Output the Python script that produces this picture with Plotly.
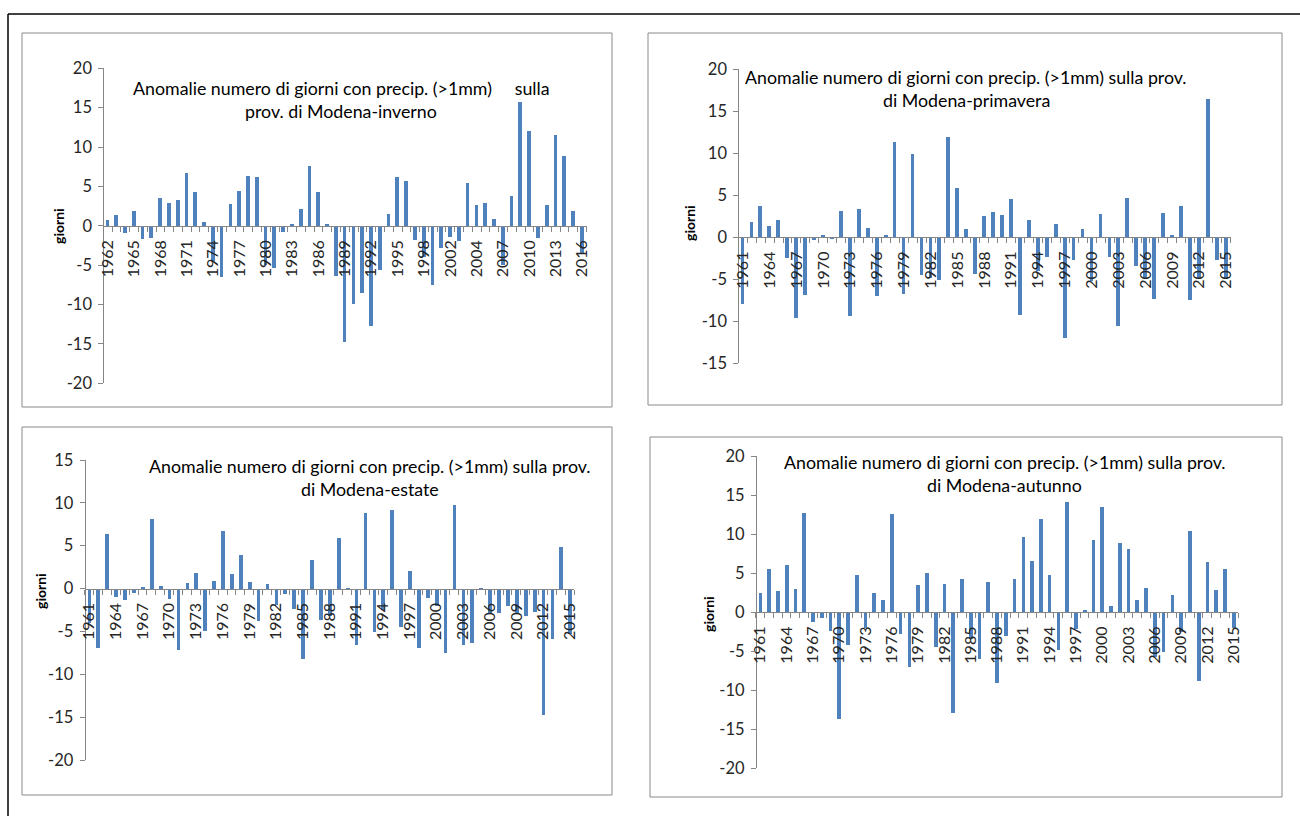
import plotly.graph_objects as go

# ---- data -----------------------------------------------------------------
years_inverno = list(range(1962, 2017))
inverno = [0.7, 1.3, -0.9, 1.8, -1.7, -1.6, 3.5, 2.8, 3.3, 6.7,      # 1962-1971
           4.3, 0.4, -4.5, -6.6, 2.7, 4.4, 6.3, 6.1, -5.0, -5.4,     # 1972-1981
           -0.8, 0.2, 2.1, 7.5, 4.3, 0.2, -6.4, -14.8, -10.0, -8.6,  # 1982-1991
           -12.8, -5.6, 1.4, 6.2, 5.6, -1.9, -4.0, -7.5, -2.9, -1.5, # 1992-2001
           -2.0, 5.4, 2.6, 2.8, 0.85, -5.0, 3.8, 15.7, 12.0, -1.6,   # 2002-2011
           2.6, 11.5, 8.8, 1.9, -3.6]                                # 2012-2016
ticks_inverno = ["1962", "1965", "1968", "1971", "1974", "1977", "1980", "1983",
                 "1986", "1989", "1992", "1995", "1998", "2002", "2004", "2007",
                 "2010", "2013", "2016"]

years_primavera = list(range(1961, 2016))
primavera = [-7.9, 1.75, 3.65, 1.35, 2.1, -2.5, -9.6, -6.9, -0.3, 0.25,    # 1961-1970
             -0.15, 3.1, -9.4, 3.4, 1.15, -7.0, 0.3, 11.35, -6.7, 9.95,    # 1971-1980
             -4.55, -4.8, -5.15, 11.9, 5.8, 1.0, -4.4, 2.55, 3.0, 2.65,    # 1981-1990
             4.5, -9.25, 2.0, -4.0, -2.3, 1.6, -12.0, -2.7, 1.0, -5.25,    # 1991-2000
             2.75, -2.3, -10.6, 4.7, -3.45, -4.8, -7.3, 2.85, 0.25, 3.75,  # 2001-2010
             -7.5, -4.8, 16.4, -2.7, -4.8]                                 # 2011-2015

years_estate = list(range(1961, 2016))
estate = [-4.0, -6.9, 6.35, -0.95, -1.3, -0.5, 0.2, 8.1, 0.25, -1.2,      # 1961-1970
          -7.2, 0.65, 1.85, -4.95, 0.9, 6.75, 1.65, 3.9, 0.75, -3.8,      # 1971-1980
          0.5, -1.9, -0.6, -2.4, -8.2, 3.3, -3.7, -3.2, 5.85, -0.2,       # 1981-1990
          -6.6, 8.85, -5.05, -2.5, 9.2, -4.5, 2.1, -6.9, -1.05, -2.0,     # 1991-2000
          -7.5, 9.75, -6.6, -6.4, -0.2, -2.9, -2.9, -2.0, -3.0, -3.2,     # 2001-2010
          -2.7, -14.8, -5.9, 4.9, -5.3]                                   # 2011-2015

years_autunno = list(range(1961, 2016))
autunno = [2.45, 5.55, 2.65, 6.1, 2.95, 12.75, -1.2, -0.7, -2.4, -13.7,   # 1961-1970
           -4.2, 4.8, -2.0, 2.45, 1.55, 12.55, -2.8, -7.05, 3.5, 5.0,     # 1971-1980
           -4.4, 3.65, -12.9, 4.2, -3.4, -6.0, 3.8, -9.1, -3.1, 4.2,      # 1981-1990
           9.6, 6.5, 11.95, 4.7, -4.8, 14.1, -2.2, 0.25, 9.25, 13.45,     # 1991-2000
           0.85, 8.85, 8.1, 1.55, 3.1, -5.8, -5.1, 2.15, -2.5, 10.4,      # 2001-2010
           -8.85, 6.4, 2.8, 5.5, -2.05]                                   # 2011-2015

ticks_std = ["1961", "1964", "1967", "1970", "1973", "1976", "1979", "1982",
             "1985", "1988", "1991", "1994", "1997", "2000", "2003", "2006",
             "2009", "2012", "2015"]

titles = [
    ["Anomalie numero di giorni con precip. (>1mm)\u00a0\u00a0\u00a0\u00a0 sulla", "prov. di Modena-inverno"],
    ["Anomalie numero di giorni con precip. (>1mm) sulla prov.", "di Modena-primavera"],
    ["Anomalie numero di giorni con precip. (>1mm) sulla prov.", "di Modena-estate"],
    ["Anomalie numero di giorni con precip. (>1mm) sulla prov.", "di Modena-autunno"],
]

# ---- layout geometry (pixels) ---------------------------------------------
W, H = 1300, 816


def fx(x):
    return x / W


def fy(y):
    return 1 - y / H


panels = [
    dict(years=years_inverno, vals=inverno, ticks=ticks_inverno, yr=(-20, 20),
         plot=(103.3, 68.3, 586.5, 383.3), box=(22, 33, 612, 407),
         t1=(341, 88), t2=(341, 111), ylab=(58, 226)),
    dict(years=years_primavera, vals=primavera, ticks=ticks_std, yr=(-15, 20),
         plot=(738.3, 69.0, 1230.5, 363.3), box=(648, 33, 1282, 405),
         t1=(966, 77), t2=(966, 100), ylab=(690, 223)),
    dict(years=years_estate, vals=estate, ticks=ticks_std, yr=(-20, 15),
         plot=(84.6, 460.0, 574.3, 760.0), box=(22, 427, 612, 795),
         t1=(369.5, 466), t2=(369.5, 489), ylab=(40, 591)),
    dict(years=years_autunno, vals=autunno, ticks=ticks_std, yr=(-20, 20),
         plot=(755.9, 456.0, 1238.0, 768.3), box=(650, 437, 1282, 797),
         t1=(1004.5, 462), t2=(1004.5, 485), ylab=(708, 614)),
]

BAR = "#4F81BD"
AXIS = "#868686"
TXT = "#262626"
FONT = "Lato"

fig = go.Figure()
shapes = []
annotations = []

for i, p in enumerate(panels, start=1):
    sx = "" if i == 1 else str(i)
    x0, ytop, x1, ybot = p["plot"]
    lo, hi = p["yr"]
    years = p["years"]

    fig.add_trace(go.Bar(
        x=years, y=p["vals"], width=0.42, marker=dict(color=BAR, line=dict(width=0)),
        xaxis="x" + sx, yaxis="y" + sx, showlegend=False,
    ))

    dy0, dy1 = fy(ybot), fy(ytop)
    zero_pos = dy0 + (0 - lo) / (hi - lo) * (dy1 - dy0)

    fig.layout["xaxis" + sx] = dict(
        domain=[fx(x0), fx(x1)], anchor="free", position=zero_pos, automargin=False,
        range=[years[0] - 0.5, years[-1] + 0.5],
        showline=True, linecolor=AXIS, linewidth=1,
        showgrid=False, zeroline=False,
        tickmode="array", tickvals=years[::3], ticktext=p["ticks"],
        ticks="", tickangle=-90, ticklabelstandoff=7,
        tickfont=dict(family=FONT, size=16, color=TXT),
        minor=dict(ticks="outside", ticklen=5, tickcolor=AXIS,
                   tickmode="linear", tick0=years[0] - 0.5, dtick=1, showgrid=False),
    )
    # value ticks every 5 days, written with a plain hyphen for negatives
    yvals = list(range(lo, hi + 1, 5))
    fig.layout["yaxis" + sx] = dict(
        domain=[dy0, dy1], anchor="free", position=fx(x0), automargin=False,
        range=[lo, hi], tickmode="array", tickvals=yvals, ticktext=[str(v) for v in yvals],
        showline=True, linecolor=AXIS, linewidth=1,
        showgrid=False, zeroline=False,
        ticks="outside", ticklen=5, tickcolor=AXIS, ticklabelstandoff=3,
        tickfont=dict(family=FONT, size=16.5, color=TXT),
    )

    bx0, by0, bx1, by1 = p["box"]
    shapes.append(dict(type="rect", xref="paper", yref="paper",
                       x0=fx(bx0), x1=fx(bx1), y0=fy(by1), y1=fy(by0),
                       line=dict(color="#8a8a8a", width=1)))

    for (tx, ty), line in zip((p["t1"], p["t2"]), titles[i - 1]):
        annotations.append(dict(text=line, x=fx(tx), y=fy(ty), xref="paper", yref="paper",
                                xanchor="center", yanchor="middle", showarrow=False,
                                font=dict(family=FONT, size=17.8, color="#000000")))

    lx, ly = p["ylab"]
    annotations.append(dict(text="<b>giorni</b>", x=fx(lx), y=fy(ly), xref="paper", yref="paper",
                            xanchor="center", yanchor="middle", textangle=-90, showarrow=False,
                            font=dict(family=FONT, size=14, color="#000000")))

# outer frame
shapes.append(dict(type="line", xref="paper", yref="paper", x0=fx(8), x1=fx(8),
                   y0=0, y1=fy(14), line=dict(color="#000000", width=1.5)))
shapes.append(dict(type="line", xref="paper", yref="paper", x0=fx(8), x1=1,
                   y0=fy(14), y1=fy(14), line=dict(color="#000000", width=1.5)))

fig.update_layout(
    width=W, height=H, margin=dict(l=0, r=0, t=0, b=0, autoexpand=False),
    paper_bgcolor="white", plot_bgcolor="white",
    shapes=shapes, annotations=annotations, bargap=0,
)

fig.write_html("out.html")
